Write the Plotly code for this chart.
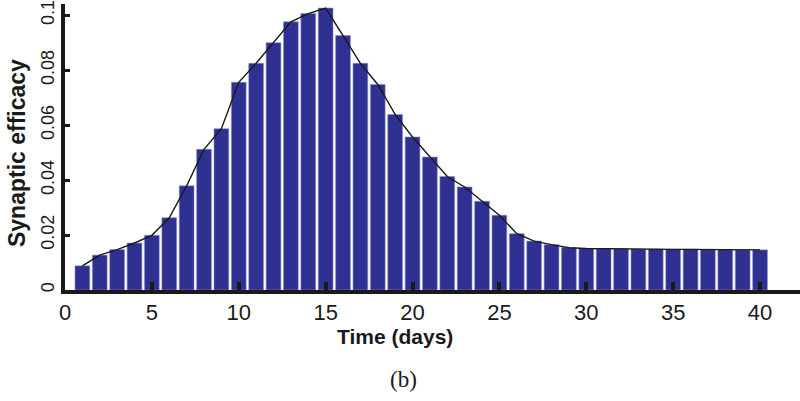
import plotly.graph_objects as go

days = [1, 2, 3, 4, 5, 6, 7, 8, 9, 10,
        11, 12, 13, 14, 15, 16, 17, 18, 19, 20,
        21, 22, 23, 24, 25, 26, 27, 28, 29, 30,
        31, 32, 33, 34, 35, 36, 37, 38, 39, 40]
efficacy = [0.0088, 0.0127, 0.0147, 0.0171, 0.0199, 0.0263, 0.0379, 0.0512, 0.0587, 0.0756,
            0.0825, 0.0900, 0.0976, 0.1006, 0.1026, 0.0926, 0.0825, 0.0748, 0.0639, 0.0557,
            0.0484, 0.0413, 0.0375, 0.0323, 0.0272, 0.0205, 0.0178, 0.0165, 0.0154, 0.0151,
            0.0150, 0.0150, 0.0149, 0.0149, 0.0148, 0.0148, 0.0147, 0.0147, 0.0146, 0.0146]

x_ticks = [0, 5, 10, 15, 20, 25, 30, 35, 40]
y_ticks = [0, 0.02, 0.04, 0.06, 0.08, 0.1]
y_tick_labels = ["0", "0.02", "0.04", "0.06", "0.08", "0.1"]

BAR = "#2E3192"
SANS = "Liberation Sans, Arial, sans-serif"

fig = go.Figure()
fig.add_trace(go.Bar(
    x=days, y=efficacy, width=0.85,
    marker=dict(color=BAR, line=dict(color="#8d8fc8", width=0.6)),
))
fig.add_trace(go.Scatter(
    x=days, y=efficacy, mode="lines",
    line=dict(color="#1a1a1a", width=1.4),
))

fig.update_layout(
    width=800, height=401,
    margin=dict(l=65, r=0, t=2, b=111),
    paper_bgcolor="white", plot_bgcolor="white",
    showlegend=False,
    xaxis=dict(
        range=[0, 42.3], tickvals=x_ticks, ticktext=[str(v) for v in x_ticks],
        showline=True, linecolor="#1a1a1a", linewidth=3.5,
        ticks="inside", ticklen=8, tickwidth=4, tickcolor="#1a1a1a",
        showgrid=False, zeroline=False,
        tickfont=dict(family=SANS, size=22, color="#1a1a1a"),
    ),
    yaxis=dict(
        range=[0, 0.10408], tickvals=y_ticks, ticktext=y_tick_labels,
        showline=True, linecolor="#1a1a1a", linewidth=3.5,
        ticks="inside", ticklen=5, tickwidth=3, tickcolor="#1a1a1a",
        showgrid=False, zeroline=False, tickangle=-90,
        ticklabeloverflow="allow",
        tickfont=dict(family=SANS, size=18, color="#1a1a1a"),
    ),
    annotations=[
        dict(text="<b>Time (days)</b>", xref="paper", yref="paper",
             x=0.449, y=-0.162, xanchor="center", yanchor="middle", showarrow=False,
             font=dict(family=SANS, size=21, color="#1a1a1a")),
        dict(text="<b>Synaptic efficacy</b>", xref="paper", yref="paper",
             x=-0.0653, y=0.479, xanchor="center", yanchor="middle", showarrow=False,
             textangle=-90,
             font=dict(family=SANS, size=23, color="#1a1a1a")),
        dict(text="(b)", xref="paper", yref="paper",
             x=0.461, y=-0.3125, xanchor="center", yanchor="middle", showarrow=False,
             font=dict(family="Liberation Serif, serif", size=23, color="#1a1a1a")),
    ],
)

fig.write_html("out.html")
